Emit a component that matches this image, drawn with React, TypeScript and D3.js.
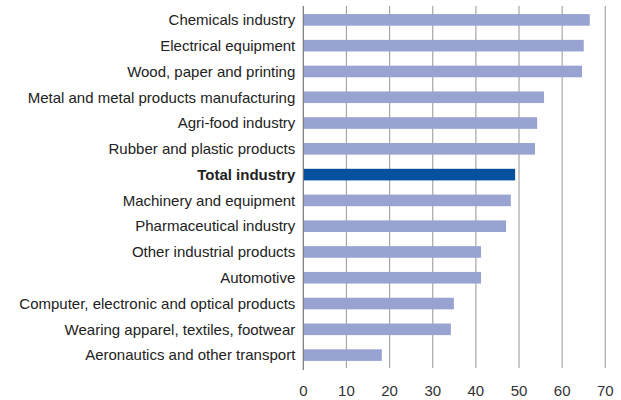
import React from "react";
import * as d3 from "d3";

const categories = [
  "Chemicals industry",
  "Electrical equipment",
  "Wood, paper and printing",
  "Metal and metal products manufacturing",
  "Agri-food industry",
  "Rubber and plastic products",
  "Total industry",
  "Machinery and equipment",
  "Pharmaceutical industry",
  "Other industrial products",
  "Automotive",
  "Computer, electronic and optical products",
  "Wearing apparel, textiles, footwear",
  "Aeronautics and other transport",
];
const values = [66.4, 65.0, 64.6, 55.8, 54.2, 53.7, 49.1, 48.1, 47.0, 41.2, 41.2, 34.9, 34.2, 18.2];
const xTicks = [0, 10, 20, 30, 40, 50, 60, 70];
const highlight = "Total industry";

export default function App() {
  const W = 621, H = 400;
  const left = 303.3, right = 605.3, top = 7, bottom = 368;
  const x = d3.scaleLinear().domain([0, 70]).range([left, right]);
  const y = d3.scaleBand<string>().domain(categories).range([top, bottom]).paddingInner(0.55).paddingOuter(0.275);
  const font = "'Liberation Sans', Arial, sans-serif";
  return (
    <svg width={W} height={H} style={{ position: "absolute", left: 0, top: 0, background: "#fff" }}>
      {xTicks.map((t) => (
        <g key={t}>
          {t > 0 && <line x1={x(t)} x2={x(t)} y1={top - 1} y2={bottom} stroke="#a6a6a6" strokeWidth={1.2} />}
          <text x={x(t)} y={396} textAnchor="middle" fontSize={15} fontFamily={font} fill="#333">{t}</text>
        </g>
      ))}
      {categories.map((c, i) => (
        <g key={c}>
          <rect x={x(0)} y={y(c)!} width={x(values[i]) - x(0)} height={y.bandwidth()} fill={c === highlight ? "#0650a0" : "#98a3d1"} />
          <text x={left - 8} y={y(c)! + y.bandwidth() / 2} dy="0.35em" textAnchor="end" fontSize={15} fontFamily={font} fontWeight={c === highlight ? "bold" : "normal"} fill="#222">{c}</text>
        </g>
      ))}
      <line x1={left} x2={left} y1={top - 1} y2={bottom + 2} stroke="#777" strokeWidth={1.2} />
    </svg>
  );
}
